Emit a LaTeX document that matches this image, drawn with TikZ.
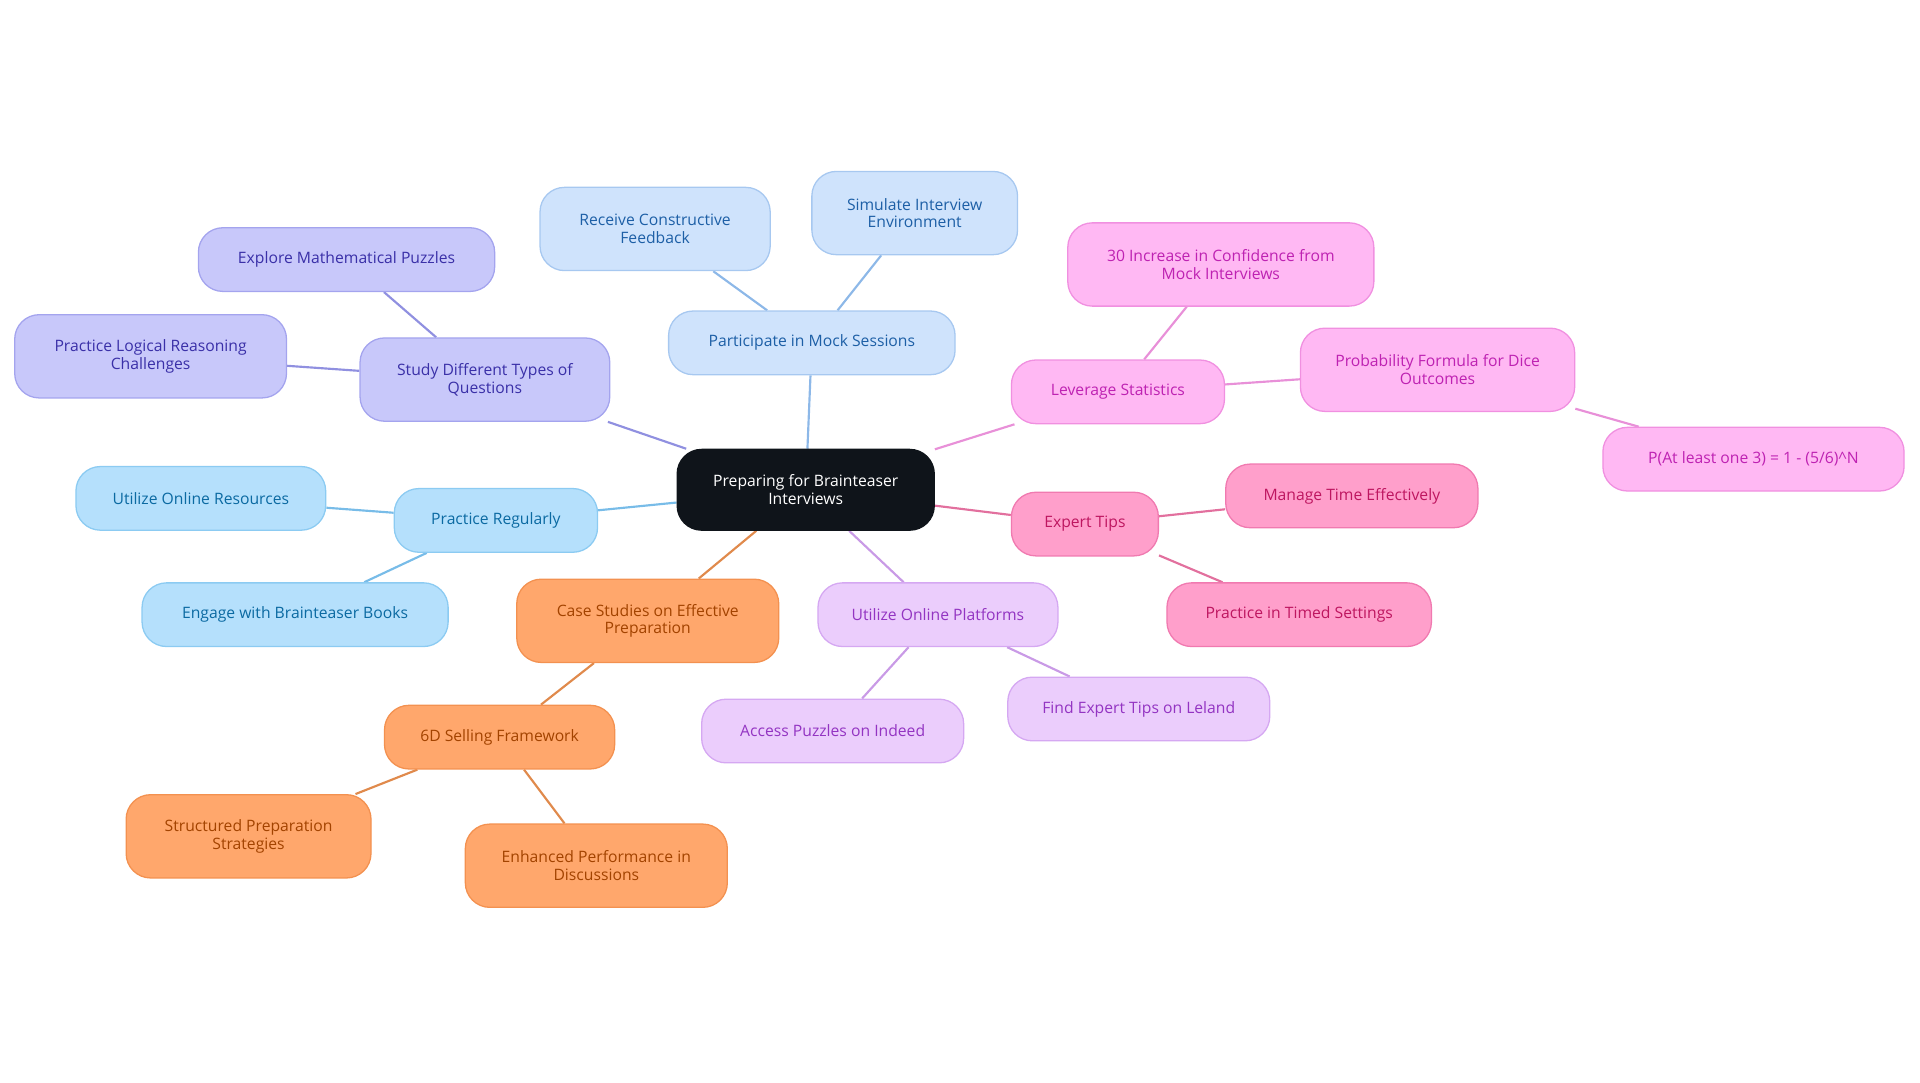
\documentclass[tikz,border=0pt]{standalone}
\usepackage{fontspec}
\setmainfont{Open Sans}
\usetikzlibrary{positioning,backgrounds}
\definecolor{rootc}{HTML}{0F141A}
\definecolor{mockf}{HTML}{CFE3FC}\definecolor{mockd}{HTML}{A7C8F0}\definecolor{mockt}{HTML}{1D5FA6}\definecolor{mocke}{HTML}{8DB8E8}
\definecolor{studf}{HTML}{C8C8FA}\definecolor{studd}{HTML}{A4A4EE}\definecolor{studt}{HTML}{3A30A8}\definecolor{stude}{HTML}{9090E0}
\definecolor{pracf}{HTML}{B5E0FC}\definecolor{pracd}{HTML}{8CCBF2}\definecolor{pract}{HTML}{0B6AA2}\definecolor{prace}{HTML}{78BCE8}
\definecolor{casef}{HTML}{FFA76C}\definecolor{cased}{HTML}{F39150}\definecolor{caset}{HTML}{A34300}\definecolor{casee}{HTML}{E08A4C}
\definecolor{platf}{HTML}{EBCDFC}\definecolor{platd}{HTML}{D5A8F2}\definecolor{platt}{HTML}{9334C2}\definecolor{plate}{HTML}{C99AE6}
\definecolor{statf}{HTML}{FFB8F3}\definecolor{statd}{HTML}{F090E0}\definecolor{statt}{HTML}{BE22B2}\definecolor{state}{HTML}{E890D8}
\definecolor{tipf}{HTML}{FF9FCB}\definecolor{tipd}{HTML}{F07AB0}\definecolor{tipt}{HTML}{BE1660}\definecolor{tipe}{HTML}{E2709E}
\begin{document}
\begin{tikzpicture}[x=0.02cm, y=-0.02cm, font=\fontsize{7.3}{8.3}\selectfont]
    \tikzset{
        topic/.style = {rectangle, rounded corners=0.4cm, align=center, inner sep=2pt, line width=0.6pt},
        mock/.style = {topic, fill=mockf, draw=mockd, text=mockt},
        stud/.style = {topic, fill=studf, draw=studd, text=studt},
        prac/.style = {topic, fill=pracf, draw=pracd, text=pract},
        case/.style = {topic, fill=casef, draw=cased, text=caset},
        plat/.style = {topic, fill=platf, draw=platd, text=platt},
        stat/.style = {topic, fill=statf, draw=statd, text=statt},
        tip/.style = {topic, fill=tipf, draw=tipd, text=tipt},
        link/.style = {line width=1pt}
    }
    \useasboundingbox (0,0) rectangle (1568,884);
    \node (root) [topic, fill=rootc, draw=rootc, text=white, minimum width=4.2cm, minimum height=1.32cm] at (658,400) {Preparing for Brainteaser\\Interviews};

    % mock sessions
    \node (mock) [mock, minimum width=4.68cm, minimum height=1.04cm] at (663,280) {Participate in Mock Sessions};
    \node (feedback) [mock, minimum width=3.76cm, minimum height=1.36cm] at (535,187) {Receive Constructive\\Feedback};
    \node (simulate) [mock, minimum width=3.36cm, minimum height=1.36cm] at (747,174) {Simulate Interview\\Environment};
    % question types
    \node (types) [stud, minimum width=4.08cm, minimum height=1.36cm] at (396,310) {Study Different Types of\\Questions};
    \node (math) [stud, minimum width=4.84cm, minimum height=1.04cm] at (283,212) {Explore Mathematical Puzzles};
    \node (logic) [stud, minimum width=4.44cm, minimum height=1.36cm] at (123,291) {Practice Logical Reasoning\\Challenges};
    % regular practice
    \node (regular) [prac, minimum width=3.32cm, minimum height=1.04cm] at (405,425) {Practice Regularly};
    \node (online) [prac, minimum width=4.08cm, minimum height=1.04cm] at (164,407) {Utilize Online Resources};
    \node (books) [prac, minimum width=5cm, minimum height=1.04cm] at (241,502) {Engage with Brainteaser Books};
    % case studies
    \node (cases) [case, minimum width=4.28cm, minimum height=1.36cm] at (529,507) {Case Studies on Effective\\Preparation};
    \node (sixd) [case, minimum width=3.76cm, minimum height=1.04cm] at (408,602) {6D Selling Framework};
    \node (struct) [case, minimum width=4cm, minimum height=1.36cm] at (203,683) {Structured Preparation\\Strategies};
    \node (enhance) [case, minimum width=4.28cm, minimum height=1.36cm] at (487,707) {Enhanced Performance in\\Discussions};
    % platforms
    \node (platforms) [plat, minimum width=3.92cm, minimum height=1.04cm] at (766,502) {Utilize Online Platforms};
    \node (indeed) [plat, minimum width=4.28cm, minimum height=1.04cm] at (680,597) {Access Puzzles on Indeed};
    \node (leland) [plat, minimum width=4.28cm, minimum height=1.04cm] at (930,579) {Find Expert Tips on Leland};
    % statistics
    \node (stats) [stat, minimum width=3.48cm, minimum height=1.04cm] at (913,320) {Leverage Statistics};
    \node (conf) [stat, minimum width=5cm, minimum height=1.36cm] at (997,216) {30 Increase in Confidence from\\Mock Interviews};
    \node (prob) [stat, minimum width=4.48cm, minimum height=1.36cm] at (1174,302) {Probability Formula for Dice\\Outcomes};
    \node (formula) [stat, minimum width=4.92cm, minimum height=1.04cm] at (1432,375) {P(At least one 3) = 1 - (5/6)\^{}N};
    % expert tips
    \node (tips) [tip, minimum width=2.4cm, minimum height=1.04cm] at (886,428) {Expert Tips};
    \node (time) [tip, minimum width=4.12cm, minimum height=1.04cm] at (1104,405) {Manage Time Effectively};
    \node (timed) [tip, minimum width=4.32cm, minimum height=1.04cm] at (1061,502) {Practice in Timed Settings};

    \begin{scope}[on background layer]
        \draw [link, mocke] (root) -- (mock);
        \draw [link, mocke] (mock) -- (feedback);
        \draw [link, mocke] (mock) -- (simulate);
        \draw [link, stude] (root) -- (types);
        \draw [link, stude] (types) -- (math);
        \draw [link, stude] (types) -- (logic);
        \draw [link, prace] (root) -- (regular);
        \draw [link, prace] (regular) -- (online);
        \draw [link, prace] (regular) -- (books);
        \draw [link, casee] (root) -- (cases);
        \draw [link, casee] (cases) -- (sixd);
        \draw [link, casee] (sixd) -- (struct);
        \draw [link, casee] (sixd) -- (enhance);
        \draw [link, plate] (root) -- (platforms);
        \draw [link, plate] (platforms) -- (indeed);
        \draw [link, plate] (platforms) -- (leland);
        \draw [link, state] (root) -- (stats);
        \draw [link, state] (stats) -- (conf);
        \draw [link, state] (stats) -- (prob);
        \draw [link, state] (prob) -- (formula);
        \draw [link, tipe] (root) -- (tips);
        \draw [link, tipe] (tips) -- (time);
        \draw [link, tipe] (tips) -- (timed);
    \end{scope}
\end{tikzpicture}
\end{document}
